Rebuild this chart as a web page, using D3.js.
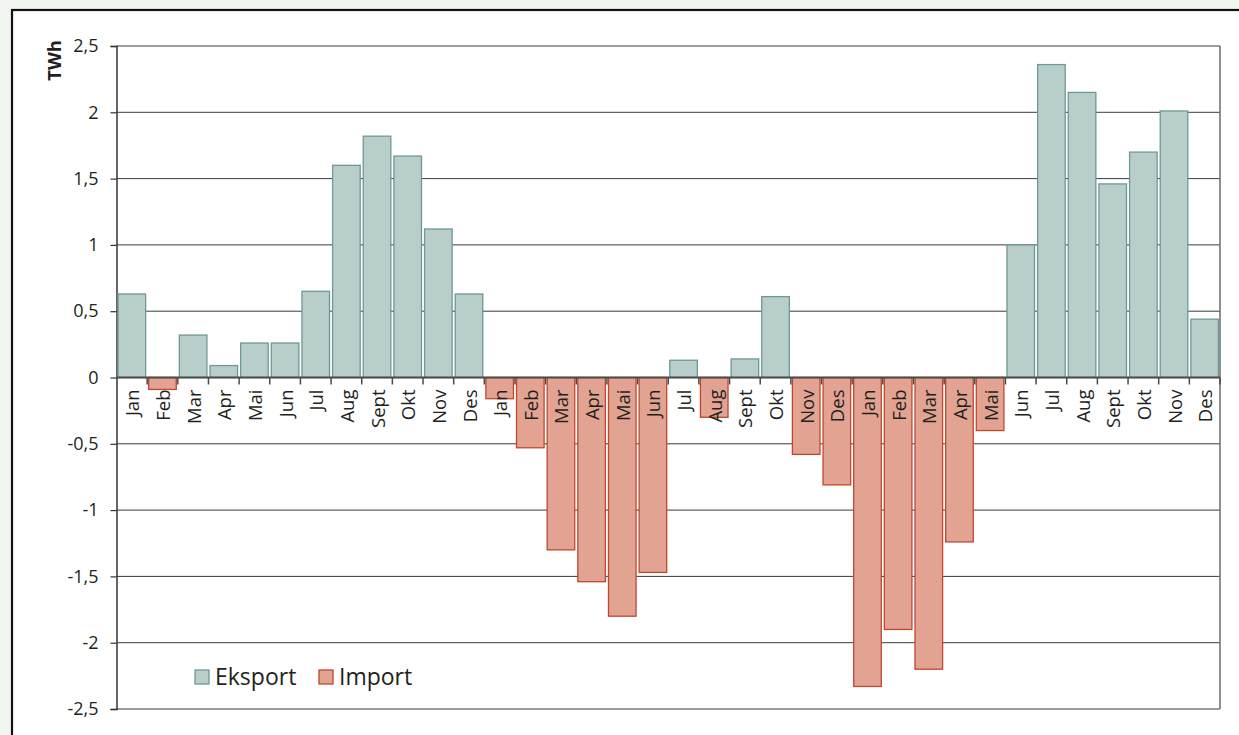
<!DOCTYPE html>
<html>
<head>
<meta charset="utf-8">
<script src="https://cdn.jsdelivr.net/npm/d3@7"></script>
<style>
  html, body { margin: 0; padding: 0; background: #f1f7f0; }
  svg { display: block; }
  text { font-family: "Open Sans", "Noto Sans", sans-serif; fill: #231f20; }
</style>
</head>
<body>
<svg id="chart" width="1239" height="735"></svg>
<script>
// Monthly power exchange, three consecutive years (TWh)
const months = [
  "Jan","Feb","Mar","Apr","Mai","Jun","Jul","Aug","Sept","Okt","Nov","Des",
  "Jan","Feb","Mar","Apr","Mai","Jun","Jul","Aug","Sept","Okt","Nov","Des",
  "Jan","Feb","Mar","Apr","Mai","Jun","Jul","Aug","Sept","Okt","Nov","Des"
];
// Net export per month (null where the month had net import)
const eksport = [
  0.63, null, 0.32, 0.09, 0.26, 0.26, 0.65, 1.60, 1.82, 1.67, 1.12, 0.63,
  null, null, null, null, null, null, 0.13, null, 0.14, 0.61, null, null,
  null, null, null, null, null, 1.00, 2.36, 2.15, 1.46, 1.70, 2.01, 0.44
];
// Net import per month, as negative values (null where the month had net export)
const importVals = [
  null, -0.09, null, null, null, null, null, null, null, null, null, null,
  -0.16, -0.53, -1.30, -1.54, -1.80, -1.47, null, -0.30, null, null, -0.58, -0.81,
  -2.33, -1.90, -2.20, -1.24, -0.40, null, null, null, null, null, null, null
];
const yTicks = [2.5, 2, 1.5, 1, 0.5, 0, -0.5, -1, -1.5, -2, -2.5];
const seriesNames = ["Eksport", "Import"];

const colors = {
  eksportFill: "#b8cecb", eksportStroke: "#6e9896",
  importFill: "#e3a392", importStroke: "#c0472f"
};

const svg = d3.select("#chart");

// White panel with dark frame
svg.append("rect")
  .attr("x", 12).attr("y", 10).attr("width", 1260).attr("height", 760)
  .attr("fill", "#fff").attr("stroke", "#111").attr("stroke-width", 2.2);

const plot = { left: 116.5, right: 1220, top: 46, bottom: 709 };

const idx = months.map((m, i) => i);
const x = d3.scaleBand().domain(idx).range([plot.left, plot.right])
  .paddingInner(0.1).paddingOuter(0.05);
const y = d3.scaleLinear().domain([-2.5, 2.5]).range([plot.bottom, plot.top]);

const fmt = v => String(v).replace(".", ",");

// Horizontal grid lines
svg.append("g").selectAll("line").data(yTicks).join("line")
  .attr("x1", plot.left).attr("x2", plot.right)
  .attr("y1", d => y(d)).attr("y2", d => y(d))
  .attr("stroke", "#3b3b3b").attr("stroke-width", 1);

// Right frame of the plot area
svg.append("line")
  .attr("x1", plot.right).attr("x2", plot.right)
  .attr("y1", plot.top).attr("y2", plot.bottom)
  .attr("stroke", "#6b6b6b").attr("stroke-width", 1.5);

// Y axis
const yAxis = d3.axisLeft(y).tickValues(yTicks).tickSize(6).tickPadding(12).tickFormat(fmt);
const yg = svg.append("g").attr("transform", `translate(${plot.left},0)`).call(yAxis);
yg.select(".domain").attr("stroke", "#333").attr("stroke-width", 1.5);
yg.selectAll(".tick line").attr("stroke", "#333").attr("stroke-width", 1.2);
yg.selectAll(".tick text")
  .style("font-family", "'Open Sans', sans-serif").style("font-size", "18px")
  .attr("fill", "#231f20");

// Bars
const barAttrs = (sel, vals, fill, stroke) => sel
  .data(idx.filter(i => vals[i] != null))
  .join("rect")
  .attr("x", i => x(i))
  .attr("width", x.bandwidth())
  .attr("y", i => Math.min(y(vals[i]), y(0)))
  .attr("height", i => Math.abs(y(vals[i]) - y(0)))
  .attr("fill", fill).attr("stroke", stroke).attr("stroke-width", 1.3);

barAttrs(svg.append("g").selectAll("rect"), eksport, colors.eksportFill, colors.eksportStroke);
barAttrs(svg.append("g").selectAll("rect"), importVals, colors.importFill, colors.importStroke);

// Zero line with category separators
svg.append("line")
  .attr("x1", plot.left).attr("x2", plot.right)
  .attr("y1", y(0)).attr("y2", y(0))
  .attr("stroke", "#4a4a4a").attr("stroke-width", 2);

const step = x.step();
const bounds = idx.map(i => x(i) - step * x.paddingInner() / 2).concat([plot.right]);
svg.append("g").selectAll("line").data(bounds.slice(1)).join("line")
  .attr("x1", d => d).attr("x2", d => d)
  .attr("y1", y(0)).attr("y2", y(0) + 7)
  .attr("stroke", "#4a4a4a").attr("stroke-width", 1.5);

// Month labels, rotated, below the zero line
svg.append("g").selectAll("text").data(idx).join("text")
  .attr("transform", i => `translate(${x(i) + x.bandwidth() / 2},${y(0) + 12}) rotate(-90)`)
  .attr("text-anchor", "end")
  .attr("dominant-baseline", "central")
  .style("font-size", "18.5px")
  .text(i => months[i]);

// Unit label
svg.append("text")
  .attr("transform", "translate(61,40) rotate(-90)")
  .attr("text-anchor", "end")
  .style("font-size", "18.5px").style("font-weight", "700")
  .text("TWh");

// Legend
const legend = svg.append("g");
const legendItems = [
  { name: seriesNames[0], x: 195, fill: colors.eksportFill, stroke: colors.eksportStroke },
  { name: seriesNames[1], x: 319, fill: colors.importFill, stroke: colors.importStroke }
];
legendItems.forEach(d => {
  legend.append("rect")
    .attr("x", d.x).attr("y", 670).attr("width", 14).attr("height", 14)
    .attr("fill", d.fill).attr("stroke", d.stroke).attr("stroke-width", 1.3);
  legend.append("text")
    .attr("x", d.x + 20).attr("y", 685)
    .style("font-size", "23px")
    .text(d.name);
});
</script>
</body>
</html>
